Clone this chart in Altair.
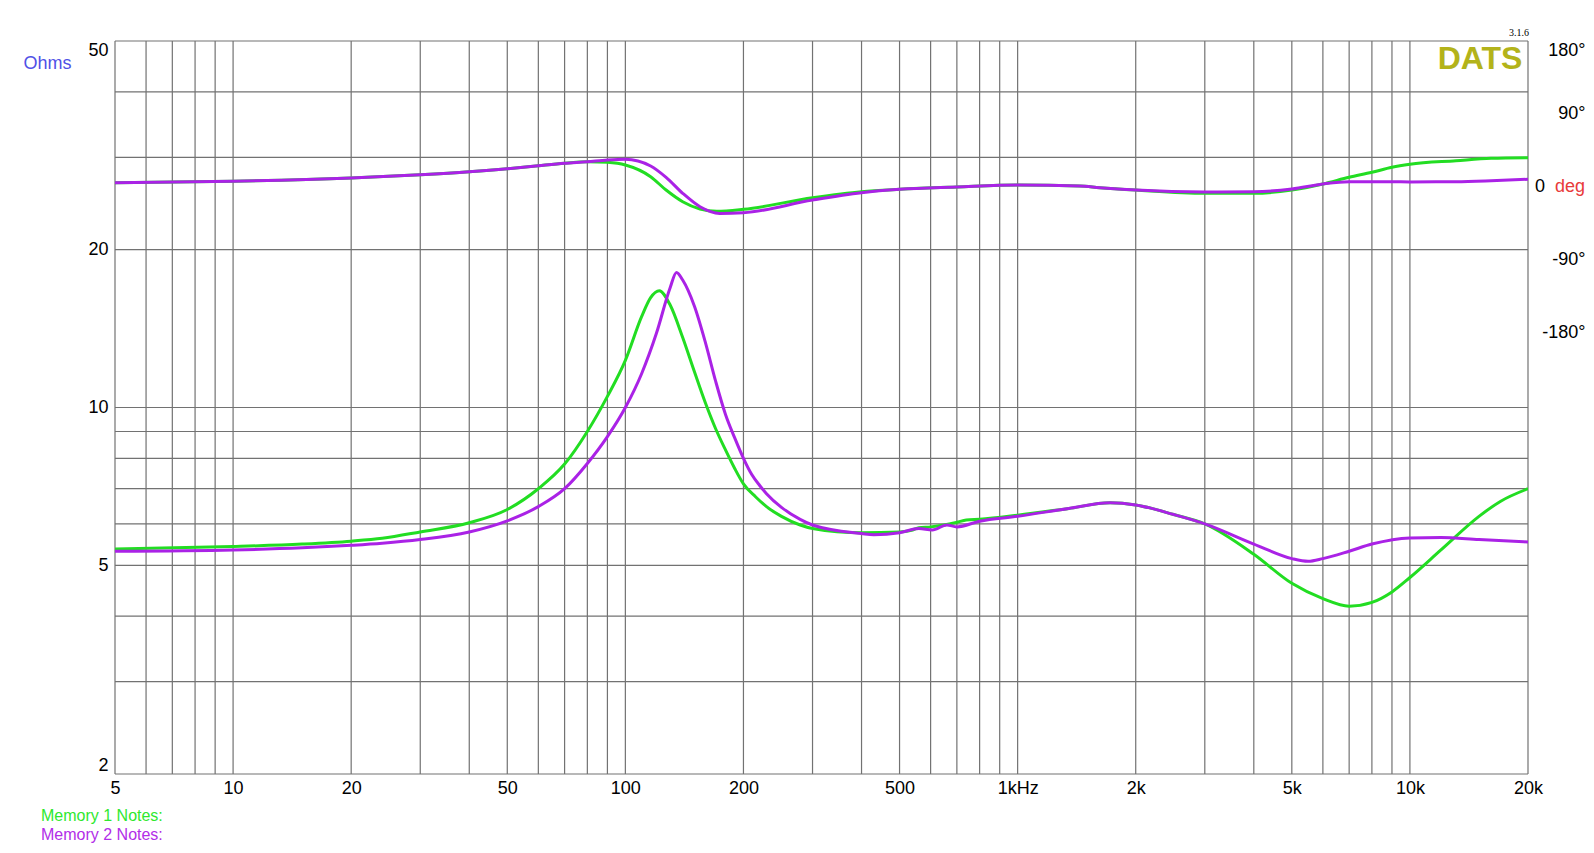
import altair as alt
import pandas as pd

# ---------------- data ----------------
freq_grid = [5, 6, 7, 8, 9, 10, 20, 30, 40, 50, 60, 70, 80, 90, 100, 200, 300, 400, 500,
             600, 700, 800, 900, 1000, 2000, 3000, 4000, 5000, 6000, 7000, 8000, 9000,
             10000, 20000]
ohm_grid = [2, 3, 4, 5, 6, 7, 8, 9, 10, 20, 30, 40, 50]
x_tick_values = [5, 10, 20, 50, 100, 200, 500, 1000, 2000, 5000, 10000, 20000]
x_tick_labels = ["5", "10", "20", "50", "100", "200", "500", "1kHz", "2k", "5k", "10k", "20k"]
ohm_tick_values = [2, 5, 10, 20, 50]
phase_tick_values = [180, 90, -90, -180]

# Memory 1 (green) impedance
m1_imp_f = [5, 10, 15, 20, 24, 30, 40, 50, 60, 70, 80, 90, 100, 110, 116, 122, 130, 140, 150,
            160, 170, 180, 190, 200, 215, 229, 250, 279, 300, 400, 500, 540, 560, 600, 650, 700,
            740, 800, 1000, 1350, 1720, 2000, 2500, 3000, 4000, 5000, 6000, 7000, 8000, 9000,
            10000, 12000, 15000, 17000, 20000]
m1_imp_z = [5.37, 5.43, 5.49, 5.56, 5.63, 5.79, 6.03, 6.39, 7.0, 7.8, 9.0, 10.5, 12.3, 14.9, 16.2,
            16.7, 15.7, 13.6, 11.7, 10.2, 9.1, 8.3, 7.65, 7.15, 6.75, 6.47, 6.2, 5.97, 5.88, 5.77,
            5.79, 5.84, 5.9, 5.92, 5.97, 6.04, 6.1, 6.12, 6.23, 6.42, 6.58, 6.52, 6.25, 6.0,
            5.25, 4.62, 4.32, 4.18, 4.25, 4.45, 4.74, 5.35, 6.2, 6.62, 7.0]

# Memory 2 (purple) impedance
m2_imp_f = [5, 10, 15, 20, 24, 30, 40, 50, 60, 70, 80, 90, 100, 110, 120, 130, 135, 140, 150,
            160, 170, 180, 190, 200, 210, 220, 229, 250, 279, 300, 400, 430, 500, 560, 606, 660,
            700, 800, 1000, 1350, 1720, 2000, 2500, 3000, 4000, 5000, 5500, 6000, 7000, 8000,
            10000, 12000, 15000, 20000]
m2_imp_z = [5.32, 5.35, 5.4, 5.46, 5.51, 5.6, 5.79, 6.08, 6.47, 7.0, 7.82, 8.8, 10.0, 11.6, 13.85,
            16.9, 18.1, 17.5, 15.6, 13.3, 11.2, 9.7, 8.75, 8.0, 7.45, 7.1, 6.85, 6.45, 6.12, 5.97,
            5.75, 5.72, 5.77, 5.88, 5.84, 5.97, 5.92, 6.07, 6.2, 6.42, 6.58, 6.52, 6.25, 6.0,
            5.49, 5.15, 5.09, 5.15, 5.32, 5.49, 5.64, 5.65, 5.6, 5.54]

# Memory 1 (green) phase, degrees
m1_ph_f = [5, 10, 20, 30, 40, 50, 60, 70, 80, 90, 100, 116, 127, 140, 155, 171, 200, 300, 400,
           500, 700, 1000, 1440, 1620, 2000, 3000, 4000, 5000, 6000, 7000, 8000, 9000, 10000,
           13100, 16100, 20000]
m1_ph_d = [5.1, 6.8, 10.9, 14.9, 18.6, 22.3, 26.0, 29.0, 31.0, 30.2, 26.9, 12.5, -4.0, -18.4,
           -27.4, -30.2, -27.8, -13.5, -6.0, -3.1, -0.2, 2.2, 1.0, -1.1, -4.0, -8.0, -8.0,
           -4.0, 3.5, 11.7, 17.9, 24.1, 27.8, 32.2, 35.2, 35.9]

# Memory 2 (purple) phase, degrees
m2_ph_f = [5, 10, 20, 30, 40, 50, 60, 70, 80, 90, 100, 116, 127, 140, 155, 174, 200, 300, 400,
           500, 700, 1000, 1440, 1620, 2000, 3000, 4000, 5000, 6000, 7000, 8000, 9000, 10000,
           13100, 16100, 20000]
m2_ph_d = [5.1, 6.8, 10.9, 14.9, 18.6, 22.3, 26.0, 29.0, 31.0, 33.1, 34.0, 25.7, 11.7, -8.0,
           -24.6, -32.8, -32.0, -16.3, -7.3, -3.1, -0.2, 2.2, 1.0, -1.1, -4.0, -6.4, -6.0,
           -2.7, 3.5, 6.3, 6.3, 6.3, 6.0, 6.3, 7.5, 9.3]

notes = ["Memory 1 Notes:", "Memory 2 Notes:"]

# ---------------- styles ----------------
GREEN = "#22dd22"
PURPLE = "#aa22e6"
GRID = "#727272"
FONT = "Liberation Sans"
W, H = 1413, 733

label_expr = " : ".join(f"datum.value == {v} ? '{l}'" for v, l in zip(x_tick_values, x_tick_labels)) + " : ''"

xscale = alt.Scale(type="log", domain=[5, 20000], nice=False)
yscale = alt.Scale(type="log", domain=[2, 50], nice=False)
pscale = alt.Scale(type="linear", domain=[-724.9, 180], nice=False, zero=False)

xaxis = alt.Axis(values=x_tick_values, labelExpr=label_expr, grid=False, ticks=False,
                 domain=False, labelFontSize=18, labelFont=FONT, labelColor="black",
                 labelPadding=5, labelFlush=False, labelOverlap=False, title=None)
yaxis = alt.Axis(values=ohm_tick_values, grid=False, ticks=False, domain=False,
                 labelFontSize=18, labelFont=FONT, labelColor="black", labelPadding=7,
                 labelFlush=True, labelOverlap=False, title="Ohms", titleAngle=0,
                 titleX=-68, titleY=22, titleAlign="center", titleBaseline="middle",
                 titleColor="#5050e6", titleFontSize=18, titleFontWeight="normal",
                 titleFont=FONT)
paxis = alt.Axis(orient="right", values=phase_tick_values, labelExpr="datum.value + '°'",
                 grid=False, ticks=False, domain=False, labelFontSize=18, labelFont=FONT,
                 labelColor="black", labelAlign="right", labelPadding=57, labelFlush=True,
                 labelOverlap=False, title=None)

X = lambda f: alt.X(f, type="quantitative", scale=xscale, axis=xaxis)

vgrid = alt.Chart(pd.DataFrame({"f": freq_grid})).mark_rule(
    color=GRID, strokeWidth=1.2).encode(x=X("f"))
hgrid = alt.Chart(pd.DataFrame({"ohm": ohm_grid})).mark_rule(
    color=GRID, strokeWidth=1.2).encode(y=alt.Y("ohm:Q", scale=yscale, axis=yaxis))


def imp_line(fs, zs, color):
    return alt.Chart(pd.DataFrame({"f": fs, "ohm": zs})).mark_line(
        color=color, strokeWidth=3, interpolate="monotone", clip=True).encode(
        x=X("f"), y=alt.Y("ohm:Q", scale=yscale, axis=yaxis))


def ph_line(fs, ds, color):
    return alt.Chart(pd.DataFrame({"f": fs, "deg": ds})).mark_line(
        color=color, strokeWidth=3, interpolate="monotone", clip=True).encode(
        x=X("f"), y=alt.Y("deg:Q", scale=pscale, axis=paxis))


zero_txt = alt.Chart(pd.DataFrame({"deg": [0], "t": ["0"]})).mark_text(
    align="right", baseline="middle", fontSize=18, font=FONT, color="black").encode(
    x=alt.value(1430), y=alt.Y("deg:Q", scale=pscale, axis=paxis), text="t:N")
deg_txt = alt.Chart(pd.DataFrame({"deg": [0], "t": ["deg"]})).mark_text(
    align="left", baseline="middle", fontSize=18, font=FONT, color="#e83a3a").encode(
    x=alt.value(1440), y=alt.Y("deg:Q", scale=pscale, axis=paxis), text="t:N")

ohm_layer = alt.layer(vgrid, hgrid,
                      imp_line(m1_imp_f, m1_imp_z, GREEN),
                      imp_line(m2_imp_f, m2_imp_z, PURPLE))
phase_layer = alt.layer(ph_line(m1_ph_f, m1_ph_d, GREEN),
                        ph_line(m2_ph_f, m2_ph_d, PURPLE),
                        zero_txt, deg_txt)


def label(text, x, y, **kw):
    return alt.Chart(pd.DataFrame({"t": [text]})).mark_text(**kw).encode(
        x=alt.value(x), y=alt.value(y), text="t:N")


dats = label("DATS", 1365, 18, fontSize=32, fontWeight="bold", font=FONT,
             color="#b3b31a", align="center", baseline="middle")
ver = label("3.1.6", 1404, -8, fontSize=10, font="Liberation Serif", color="black",
            align="center", baseline="middle")
note1 = label(notes[0], -74, 775, fontSize=16, font=FONT, color="#2ee82e",
              align="left", baseline="middle")
note2 = label(notes[1], -74, 794, fontSize=16, font=FONT, color="#b22ee8",
              align="left", baseline="middle")

chart = alt.layer(ohm_layer, phase_layer, dats, ver, note1, note2).resolve_scale(
    y="independent").properties(
    width=W, height=H,
    padding={"left": 107, "top": 33, "right": 58, "bottom": 71},
    autosize=alt.AutoSizeParams(type="none"),
    background="white",
).configure_view(stroke=None)

chart.save("out.html", embed_options={"renderer": "svg", "actions": False})
